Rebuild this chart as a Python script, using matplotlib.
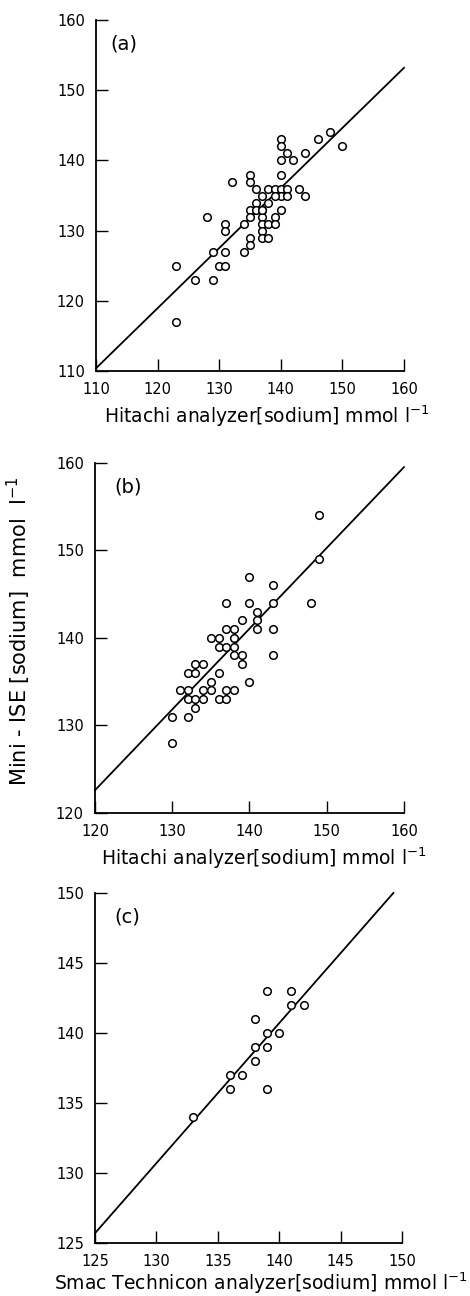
import matplotlib
matplotlib.use("Agg")
import matplotlib.pyplot as plt
import numpy as np

# ---- data (panel a: Hitachi vs Mini-ISE) ----
a_x = [123, 123, 126, 128, 129, 129, 130, 131, 131, 131, 131, 132, 134, 134,
       135, 135, 135, 135, 135, 135, 136, 136, 136, 137, 137, 137, 137, 137,
       137, 138, 138, 138, 138, 139, 139, 139, 140, 140, 140, 140, 140, 140,
       140, 141, 141, 141, 142, 143, 144, 144, 146, 148, 150, 139, 137]
a_y = [125, 117, 123, 132, 127, 123, 125, 125, 127, 131, 130, 137, 131, 127,
       138, 137, 133, 132, 129, 128, 136, 134, 133, 135, 133, 132, 131, 130,
       129, 136, 134, 131, 129, 136, 132, 131, 143, 142, 140, 138, 136, 135,
       133, 141, 136, 135, 140, 136, 141, 135, 143, 144, 142, 135, 133]
a_fit = (0.856, 110.4)      # slope, value at start of line
a_line_x = [110, 160]

# ---- panel b ----
b_x = [130, 130, 131, 132, 132, 132, 132, 133, 133, 133, 133, 134, 134, 134,
       135, 135, 135, 136, 136, 136, 136, 137, 137, 137, 137, 137, 138, 138,
       138, 138, 138, 139, 139, 139, 140, 140, 140, 141, 141, 141, 143, 143,
       143, 143, 148, 149, 149]
b_y = [128, 131, 134, 136, 134, 133, 131, 137, 136, 133, 132, 137, 134, 133,
       140, 135, 134, 140, 139, 136, 133, 144, 141, 139, 134, 133, 141, 140,
       139, 138, 134, 142, 138, 137, 147, 144, 135, 143, 142, 141, 146, 144,
       141, 138, 144, 154, 149]
b_fit = (0.923, 122.6)
b_line_x = [120, 160]

# ---- panel c ----
c_x = [133, 136, 136, 137, 138, 138, 138, 139, 139, 139, 139, 140, 141, 141, 142]
c_y = [134, 137, 136, 137, 138, 139, 141, 140, 139, 136, 143, 140, 143, 142, 142]
c_fit = (1.0, 125.7)
c_line_x = [125, 149.3]

panels = [
    dict(x=a_x, y=a_y, fit=a_fit, lx=a_line_x, lim=(110, 160), step=10,
         tag="(a)", tagx=0.045, xlabel="Hitachi analyzer[sodium] mmol l$^{-1}$",
         xlc=(0.555, -0.148), ylabel=None,
         pos=[0.2043, 0.7137, 0.6553, 0.2708]),
    dict(x=b_x, y=b_y, fit=b_fit, lx=b_line_x, lim=(120, 160), step=10,
         tag="(b)", tagx=0.062, xlabel="Hitachi analyzer[sodium] mmol l$^{-1}$",
         xlc=(0.545, -0.148),
         ylabel="Mini - ISE [sodium]  mmol  l$^{-1}$",
         pos=[0.2021, 0.3727, 0.6574, 0.2701]),
    dict(x=c_x, y=c_y, fit=c_fit, lx=c_line_x, lim=(125, 150), step=5,
         tag="(c)", tagx=0.062,
         xlabel="Smac Technicon analyzer[sodium] mmol l$^{-1}$",
         xlc=(0.54, -0.135), ylabel=None,
         pos=[0.2021, 0.0409, 0.6532, 0.2701]),
]

plt.rcParams['font.family'] = ['DejaVu Sans']
fig = plt.figure(figsize=(4.70, 12.96), dpi=100)

for p in panels:
    ax = fig.add_axes(p["pos"])
    lo, hi = p["lim"]
    ax.set_xlim(lo, hi)
    ax.set_ylim(lo, hi)
    ticks = np.arange(lo, hi + 0.1, p["step"])
    ax.set_xticks(ticks)
    ax.set_yticks(ticks)
    ax.tick_params(direction="in", length=8.5, width=1.0, labelsize=10.5,
                   pad=8, colors="black")
    for s in ("top", "right"):
        ax.spines[s].set_visible(False)
    for s in ("left", "bottom"):
        ax.spines[s].set_linewidth(1.3)
    slope, y0 = p["fit"]
    lx = np.array(p["lx"], dtype=float)
    ly = y0 + slope * (lx - lx[0])
    ax.plot(lx, ly, color="black", lw=1.3, clip_on=False)
    ax.scatter(p["x"], p["y"], s=30, facecolors="white", edgecolors="black",
               linewidths=1.1, zorder=3, clip_on=False)
    ax.text(p["tagx"], 0.932, p["tag"], transform=ax.transAxes, fontsize=14,
            ha="left", va="center")
    ax.set_xlabel(p["xlabel"], fontsize=13.5, va="baseline")
    ax.xaxis.set_label_coords(*p["xlc"])
    if p["ylabel"]:
        ax.set_ylabel(p["ylabel"], fontsize=15)
        ax.yaxis.set_label_coords(-0.2, 0.52)

fig.savefig("out.png", dpi=100)
